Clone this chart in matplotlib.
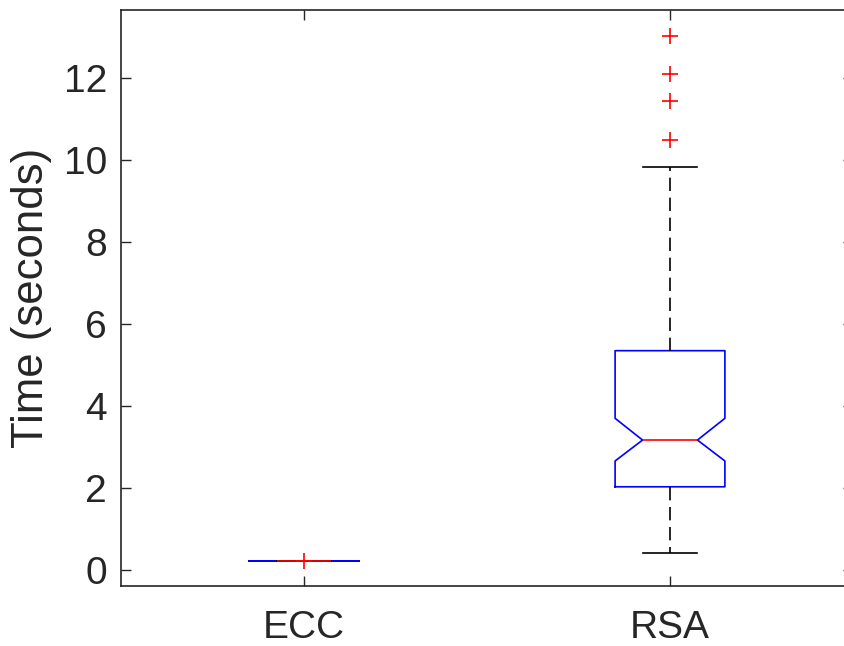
import matplotlib
matplotlib.use('Agg')
import matplotlib.pyplot as plt

plt.rcParams['font.family'] = ['Liberation Sans', 'DejaVu Sans']

# Données
labels = ['ECC', 'RSA']
ecc_stats = [0.23, 0.23, 0.23, 0.23, 0.23, 0.23, 0.23]  # whislo, q1, cilo, med, cihi, q3, whishi
rsa_stats = [0.42, 2.03, 2.66, 3.17, 3.70, 5.35, 9.83]
ecc_fliers = [0.23]
rsa_fliers = [10.5, 11.45, 12.1, 13.02]

def make_stats(label, s, fliers):
    return {'label': label, 'whislo': s[0], 'q1': s[1], 'cilo': s[2], 'med': s[3],
            'cihi': s[4], 'q3': s[5], 'whishi': s[6], 'fliers': fliers}

stats = [make_stats('ECC', ecc_stats, ecc_fliers), make_stats('RSA', rsa_stats, rsa_fliers)]

dark = '#262626'
fig = plt.figure(figsize=(8.44, 6.46), dpi=100)
ax = fig.add_axes([121/844, 1 - 586/646, (853 - 121)/844, (586 - 10)/646])

ax.bxp(stats, positions=[1, 2], widths=0.3, shownotches=True, showfliers=True,
       boxprops=dict(color='blue', linewidth=1.2),
       medianprops=dict(color='red', linewidth=1.2),
       whiskerprops=dict(color='black', linestyle=(0, (8, 4)), linewidth=1.2),
       capprops=dict(color='black', linewidth=1.2),
       capwidths=0.15,
       flierprops=dict(marker='+', markeredgecolor='red', markersize=11, markeredgewidth=1.2))

ax.set_xlim(0.5, 2.5)
ax.set_ylim(-0.39, 13.66)
ax.set_yticks([0, 2, 4, 6, 8, 10, 12])
ax.set_xticks([1, 2])
ax.set_xticklabels(labels)
ax.set_ylabel('Time (seconds)', fontsize=31.5, color=dark)
ax.yaxis.set_label_coords(-0.094, 0.5)
ax.tick_params(direction='in', length=7, width=1.0, colors=dark, labelsize=28,
               top=True, right=True)
ax.tick_params(axis='y', pad=10)
ax.tick_params(axis='x', pad=17)
for sp in ax.spines.values():
    sp.set_color(dark)
    sp.set_linewidth(1.2)

plt.savefig('out.png', dpi=100)
